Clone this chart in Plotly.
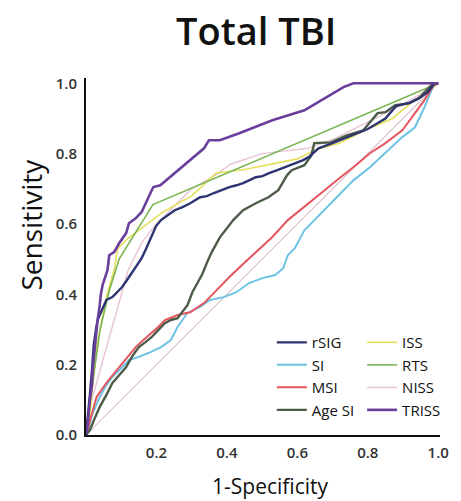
import plotly.graph_objects as go

# ROC curves for Total TBI: (1-specificity, sensitivity) per score
RSIG_X = [0, 0.006, 0.011, 0.017, 0.022, 0.028, 0.033, 0.039, 0.047, 0.058, 0.075, 0.089, 0.102, 0.116,
          0.13, 0.144, 0.158, 0.169, 0.177, 0.191, 0.199, 0.213, 0.224, 0.238, 0.252, 0.274, 0.296, 0.324,
          0.343, 0.363, 0.385, 0.407, 0.427, 0.446, 0.463, 0.482, 0.501, 0.518, 0.543, 0.565, 0.593, 0.615,
          0.632, 0.66, 0.7, 0.75, 0.8, 0.85, 0.88, 0.92, 0.95, 0.97, 0.99, 1.0]
RSIG_Y = [0, 0.057, 0.114, 0.185, 0.256, 0.298, 0.327, 0.341, 0.361, 0.384, 0.392, 0.406, 0.42, 0.44,
          0.46, 0.48, 0.503, 0.526, 0.545, 0.577, 0.594, 0.611, 0.619, 0.631, 0.639, 0.648, 0.659, 0.676,
          0.679, 0.688, 0.696, 0.705, 0.71, 0.716, 0.724, 0.733, 0.736, 0.744, 0.753, 0.761, 0.773, 0.781,
          0.79, 0.815, 0.83, 0.85, 0.87, 0.9, 0.935, 0.945, 0.96, 0.975, 1.0, 1.0]

SI_X = [0, 0.006, 0.017, 0.039, 0.058, 0.075, 0.1, 0.122, 0.15, 0.177, 0.213, 0.241, 0.26, 0.274, 0.288,
        0.324, 0.352, 0.391, 0.427, 0.463, 0.501, 0.537, 0.56, 0.573, 0.593, 0.62, 0.668, 0.712, 0.759,
        0.806, 0.85, 0.898, 0.934, 0.961, 0.989, 1.0]
SI_Y = [0, 0.014, 0.057, 0.108, 0.142, 0.165, 0.19, 0.213, 0.222, 0.233, 0.25, 0.27, 0.307, 0.327, 0.347,
        0.364, 0.384, 0.392, 0.406, 0.432, 0.446, 0.455, 0.474, 0.511, 0.531, 0.582, 0.631, 0.676, 0.724,
        0.761, 0.801, 0.847, 0.875, 0.932, 1.0, 1.0]

MSI_X = [0, 0.006, 0.017, 0.03, 0.058, 0.094, 0.116, 0.141, 0.163, 0.186, 0.205, 0.224, 0.26, 0.296,
         0.335, 0.371, 0.407, 0.446, 0.482, 0.529, 0.573, 0.62, 0.668, 0.712, 0.759, 0.806, 0.85, 0.898,
         0.925, 0.961, 0.986, 1.0]
MSI_Y = [0, 0.023, 0.065, 0.108, 0.148, 0.193, 0.222, 0.25, 0.27, 0.29, 0.307, 0.327, 0.341, 0.349,
         0.375, 0.412, 0.449, 0.486, 0.52, 0.563, 0.611, 0.648, 0.688, 0.724, 0.761, 0.801, 0.83, 0.866,
         0.903, 0.952, 0.994, 1.0]

AGESI_X = [0, 0.011, 0.025, 0.039, 0.058, 0.075, 0.094, 0.114, 0.13, 0.15, 0.169, 0.186, 0.205, 0.224,
           0.241, 0.26, 0.277, 0.288, 0.302, 0.316, 0.33, 0.343, 0.357, 0.38, 0.399, 0.418, 0.446, 0.482,
           0.518, 0.546, 0.571, 0.584, 0.62, 0.64, 0.648, 0.695, 0.74, 0.787, 0.806, 0.828, 0.85, 0.878,
           0.917, 0.945, 0.961, 0.986, 1.0]
AGESI_Y = [0, 0.014, 0.048, 0.08, 0.114, 0.148, 0.17, 0.193, 0.222, 0.25, 0.264, 0.278, 0.298, 0.318,
           0.327, 0.332, 0.355, 0.369, 0.406, 0.432, 0.457, 0.489, 0.52, 0.562, 0.588, 0.611, 0.639, 0.659,
           0.676, 0.696, 0.739, 0.753, 0.767, 0.795, 0.83, 0.832, 0.852, 0.866, 0.889, 0.915, 0.918, 0.938,
           0.943, 0.957, 0.974, 1.0, 1.0]

ISS_X = [0, 0.01, 0.03, 0.06, 0.08, 0.09, 0.12, 0.16, 0.22, 0.3, 0.37, 0.45, 0.53, 0.6, 0.65, 0.72,
         0.8, 0.87, 0.93, 1.0]
ISS_Y = [0, 0.05, 0.25, 0.4, 0.47, 0.53, 0.56, 0.59, 0.635, 0.68, 0.745, 0.755, 0.77, 0.785, 0.81, 0.83,
         0.87, 0.9, 0.95, 1.0]

RTS_X = [0, 0.015, 0.04, 0.066, 0.094, 0.19, 1.0]
RTS_Y = [0, 0.12, 0.3, 0.41, 0.5, 0.655, 1.0]

NISS_X = [0, 0.011, 0.05, 0.1, 0.12, 0.16, 0.2, 0.26, 0.3, 0.37, 0.41, 0.5, 0.63, 0.7, 0.8, 0.9, 1.0]
NISS_Y = [0, 0.08, 0.22, 0.4, 0.47, 0.55, 0.6, 0.66, 0.7, 0.74, 0.77, 0.8, 0.815, 0.84, 0.89, 0.94, 1.0]

TRISS_X = [0, 0.006, 0.011, 0.017, 0.019, 0.025, 0.028, 0.033, 0.039, 0.042, 0.047, 0.053, 0.061, 0.066,
           0.08, 0.094, 0.114, 0.122, 0.141, 0.158, 0.177, 0.191, 0.211, 0.252, 0.296, 0.335, 0.349, 0.38,
           0.435, 0.529, 0.62, 0.731, 0.759, 1.0]
TRISS_Y = [0, 0.043, 0.1, 0.142, 0.185, 0.25, 0.284, 0.327, 0.369, 0.398, 0.426, 0.446, 0.469, 0.511,
           0.52, 0.545, 0.574, 0.602, 0.616, 0.634, 0.673, 0.705, 0.71, 0.744, 0.781, 0.815, 0.838, 0.838,
           0.858, 0.895, 0.923, 0.989, 1.0, 1.0]

DIAG_X = [0, 1]
DIAG_Y = [0, 1]

X_TICKS = [0.2, 0.4, 0.6, 0.8, 1.0]
Y_TICKS = [0.0, 0.2, 0.4, 0.6, 0.8, 1.0]

FONT = "Open Sans"

# name, x, y, colour, width, legend group, rank within legend
series = [
    ("NISS", NISS_X, NISS_Y, "#eac6d6", 1.5, "legend2", 3),
    ("ISS", ISS_X, ISS_Y, "#e4df5c", 1.6, "legend2", 1),
    ("RTS", RTS_X, RTS_Y, "#7cb552", 1.6, "legend2", 2),
    ("SI", SI_X, SI_Y, "#6ec2e4", 2.0, "legend", 2),
    ("MSI", MSI_X, MSI_Y, "#e6545e", 2.0, "legend", 3),
    ("Age SI", AGESI_X, AGESI_Y, "#4c5c48", 2.4, "legend", 4),
    ("rSIG", RSIG_X, RSIG_Y, "#2e3472", 2.4, "legend", 1),
    ("TRISS", TRISS_X, TRISS_Y, "#6a3f9c", 2.6, "legend2", 4),
]

fig = go.Figure()

# chance line
fig.add_trace(go.Scatter(x=DIAG_X, y=DIAG_Y, mode="lines",
                         line=dict(color="#dcc6cc", width=1.2), showlegend=False, hoverinfo="skip"))

for name, xs, ys, color, w, leg, rank in series:
    fig.add_trace(go.Scatter(x=xs, y=ys, mode="lines", name=name,
                             line=dict(color=color, width=w),
                             legend=leg, legendrank=rank))

legend_common = dict(
    orientation="v", bgcolor="rgba(0,0,0,0)", borderwidth=0,
    font=dict(family=FONT, size=15, color="#111"),
    xanchor="left", yanchor="top", itemwidth=30, tracegroupgap=0,
)

fig.update_layout(
    width=461, height=501,
    margin=dict(l=86, r=12, t=78, b=66),
    paper_bgcolor="white", plot_bgcolor="white",
    font=dict(family=FONT, color="#111"),
    xaxis=dict(range=[0, 1.005], showgrid=False, zeroline=False, showline=True,
               linecolor="#111", linewidth=2, ticks="", tickvals=X_TICKS,
               ticktext=[f"{v:.1f}" for v in X_TICKS], ticklabelstandoff=3,
               tickfont=dict(family=FONT, size=15, color="#333", weight=600)),
    yaxis=dict(range=[0, 1.015], showgrid=False, zeroline=False, showline=True,
               linecolor="#111", linewidth=2, ticks="", tickvals=Y_TICKS,
               ticktext=[f"{v:.1f}" for v in Y_TICKS], ticklabelstandoff=4,
               tickfont=dict(family=FONT, size=15, color="#333", weight=600)),
    legend=dict(x=0.525, y=0.305, **legend_common),
    legend2=dict(x=0.78, y=0.305, **legend_common),
    annotations=[
        dict(text="Total TBI", xref="paper", yref="paper", x=0.48, y=1.135,
             showarrow=False, font=dict(family=FONT, size=38, color="#111", weight=600),
             xanchor="center", yanchor="middle"),
        dict(text="Sensitivity", xref="paper", yref="paper", x=-0.155, y=0.59,
             textangle=-90, showarrow=False, font=dict(family=FONT, size=28, color="#111"),
             xanchor="center", yanchor="middle"),
        dict(text="1-Specificity", xref="paper", yref="paper", x=0.52, y=-0.142,
             showarrow=False, font=dict(family=FONT, size=21, color="#111"),
             xanchor="center", yanchor="middle"),
    ],
)

fig.write_html("out.html")
